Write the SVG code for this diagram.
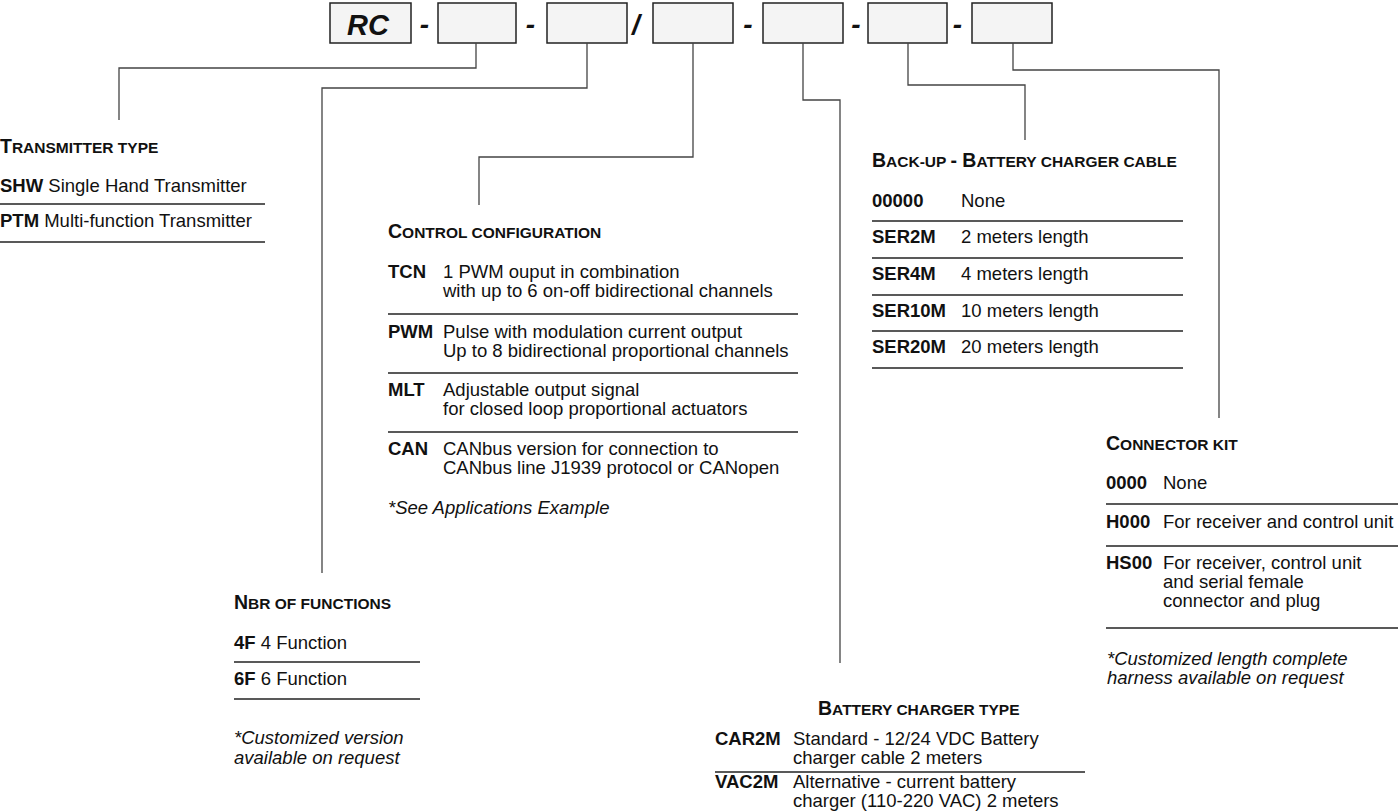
<svg xmlns="http://www.w3.org/2000/svg" width="1398" height="811" viewBox="0 0 1398 811">
<style>
text{font-family:"Liberation Sans",Arial,Helvetica,sans-serif;fill:#111;}
.t{font-size:18.5px;}
.b{font-weight:bold;}
.h{font-weight:bold;font-size:15.5px;}
.hc{font-size:19.5px;}
.n{font-style:italic;font-size:18.5px;}
.box{fill:#f4f4f4;stroke:#222;stroke-width:1.5;}
.sep{font-size:28px;font-weight:bold;font-style:italic;text-anchor:middle;}
.hr{stroke:#222;stroke-width:1.3;}
#connectors path{fill:none;stroke:#444;stroke-width:1.3;}
</style>

<g id="code-bar">
  <g id="box-rc"><rect class="box" x="330" y="3" width="81" height="40"/><text x="368" y="35" font-size="29" font-weight="bold" font-style="italic" text-anchor="middle">RC</text></g>
  <text class="sep" x="424.5" y="34">-</text>
  <g id="box-2"><rect class="box" x="438" y="3" width="78" height="40"/></g>
  <text class="sep" x="530.5" y="34">-</text>
  <g id="box-3"><rect class="box" x="547" y="3" width="80" height="40"/></g>
  <text class="sep" x="636" y="34">/</text>
  <g id="box-4"><rect class="box" x="653" y="3" width="80" height="40"/></g>
  <text class="sep" x="748" y="34">-</text>
  <g id="box-5"><rect class="box" x="763" y="3" width="80" height="40"/></g>
  <text class="sep" x="856" y="34">-</text>
  <g id="box-6"><rect class="box" x="868" y="3" width="79" height="40"/></g>
  <text class="sep" x="957.5" y="34">-</text>
  <g id="box-7"><rect class="box" x="972" y="3" width="80" height="40"/></g>
</g>

<g id="connectors">
  <path d="M476,43 V68 H119 V120"/>
  <path d="M587,43 V88 H322 V573"/>
  <path d="M693,43 V157 H479 V205"/>
  <path d="M803,43 V100 H840 V663"/>
  <path d="M908,43 V85 H1025 V140"/>
  <path d="M1013,43 V70 H1219 V418"/>
</g>

<g id="transmitter-type">
  <text class="h" x="0" y="153"><tspan class="hc">T</tspan>RANSMITTER TYPE</text>
  <text class="t" x="0" y="192"><tspan class="b">SHW</tspan> Single Hand Transmitter</text>
  <line class="hr" x1="0" y1="204" x2="265" y2="204"/>
  <text class="t" x="0" y="227"><tspan class="b">PTM</tspan> Multi-function Transmitter</text>
  <line class="hr" x1="0" y1="242" x2="265" y2="242"/>
</g>

<g id="control-configuration">
  <text class="h" x="388" y="238"><tspan class="hc">C</tspan>ONTROL CONFIGURATION</text>
  <text class="t b" x="388" y="278">TCN</text>
  <text class="t" x="443" y="278">1 PWM ouput in combination</text>
  <text class="t" x="443" y="297">with up to 6 on-off bidirectional channels</text>
  <line class="hr" x1="388" y1="314" x2="798" y2="314"/>
  <text class="t b" x="388" y="338">PWM</text>
  <text class="t" x="443" y="338">Pulse with modulation current output</text>
  <text class="t" x="443" y="357">Up to 8 bidirectional proportional channels</text>
  <line class="hr" x1="388" y1="373" x2="798" y2="373"/>
  <text class="t b" x="388" y="396">MLT</text>
  <text class="t" x="443" y="396">Adjustable output signal</text>
  <text class="t" x="443" y="415">for closed loop proportional actuators</text>
  <line class="hr" x1="388" y1="432" x2="798" y2="432"/>
  <text class="t b" x="388" y="455">CAN</text>
  <text class="t" x="443" y="455">CANbus version for connection to</text>
  <text class="t" x="443" y="474">CANbus line J1939 protocol or CANopen</text>
  <text class="n" x="388" y="514">*See Applications Example</text>
</g>

<g id="nbr-of-functions">
  <text class="h" x="234" y="609"><tspan class="hc">N</tspan>BR OF FUNCTIONS</text>
  <text class="t" x="234" y="649"><tspan class="b">4F</tspan> 4 Function</text>
  <line class="hr" x1="234" y1="662" x2="420" y2="662"/>
  <text class="t" x="234" y="685"><tspan class="b">6F</tspan> 6 Function</text>
  <line class="hr" x1="234" y1="699" x2="420" y2="699"/>
  <text class="n" x="234" y="744">*Customized version</text>
  <text class="n" x="234" y="764">available on request</text>
</g>

<g id="battery-charger-type">
  <text class="h" x="818" y="715"><tspan class="hc">B</tspan>ATTERY CHARGER TYPE</text>
  <text class="t b" x="715" y="745">CAR2M</text>
  <text class="t" x="793" y="745">Standard - 12/24 VDC Battery</text>
  <text class="t" x="793" y="764">charger cable 2 meters</text>
  <line class="hr" x1="715" y1="772" x2="1085" y2="772"/>
  <text class="t b" x="715" y="788">VAC2M</text>
  <text class="t" x="793" y="788">Alternative - current battery</text>
  <text class="t" x="793" y="807">charger (110-220 VAC) 2 meters</text>
</g>

<g id="backup-battery-charger-cable">
  <text class="h" x="872" y="167"><tspan class="hc">B</tspan>ACK-UP <tspan class="hc">- B</tspan>ATTERY CHARGER CABLE</text>
  <text class="t b" x="872" y="207">00000</text>
  <text class="t" x="961" y="207">None</text>
  <line class="hr" x1="872" y1="221" x2="1183" y2="221"/>
  <text class="t b" x="872" y="243">SER2M</text>
  <text class="t" x="961" y="243">2 meters length</text>
  <line class="hr" x1="872" y1="258" x2="1183" y2="258"/>
  <text class="t b" x="872" y="280">SER4M</text>
  <text class="t" x="961" y="280">4 meters length</text>
  <line class="hr" x1="872" y1="295" x2="1183" y2="295"/>
  <text class="t b" x="872" y="317">SER10M</text>
  <text class="t" x="961" y="317">10 meters length</text>
  <line class="hr" x1="872" y1="331" x2="1183" y2="331"/>
  <text class="t b" x="872" y="353">SER20M</text>
  <text class="t" x="961" y="353">20 meters length</text>
  <line class="hr" x1="872" y1="368" x2="1183" y2="368"/>
</g>

<g id="connector-kit">
  <text class="h" x="1106" y="450"><tspan class="hc">C</tspan>ONNECTOR KIT</text>
  <text class="t b" x="1106" y="489">0000</text>
  <text class="t" x="1163" y="489">None</text>
  <line class="hr" x1="1106" y1="504" x2="1398" y2="504"/>
  <text class="t b" x="1106" y="528">H000</text>
  <text class="t" x="1163" y="528">For receiver and control unit</text>
  <line class="hr" x1="1106" y1="546" x2="1398" y2="546"/>
  <text class="t b" x="1106" y="569">HS00</text>
  <text class="t" x="1163" y="569">For receiver, control unit</text>
  <text class="t" x="1163" y="588">and serial female</text>
  <text class="t" x="1163" y="607">connector and plug</text>
  <line class="hr" x1="1106" y1="628" x2="1398" y2="628"/>
  <text class="n" x="1107" y="665">*Customized length complete</text>
  <text class="n" x="1107" y="684">harness available on request</text>
</g>
</svg>
